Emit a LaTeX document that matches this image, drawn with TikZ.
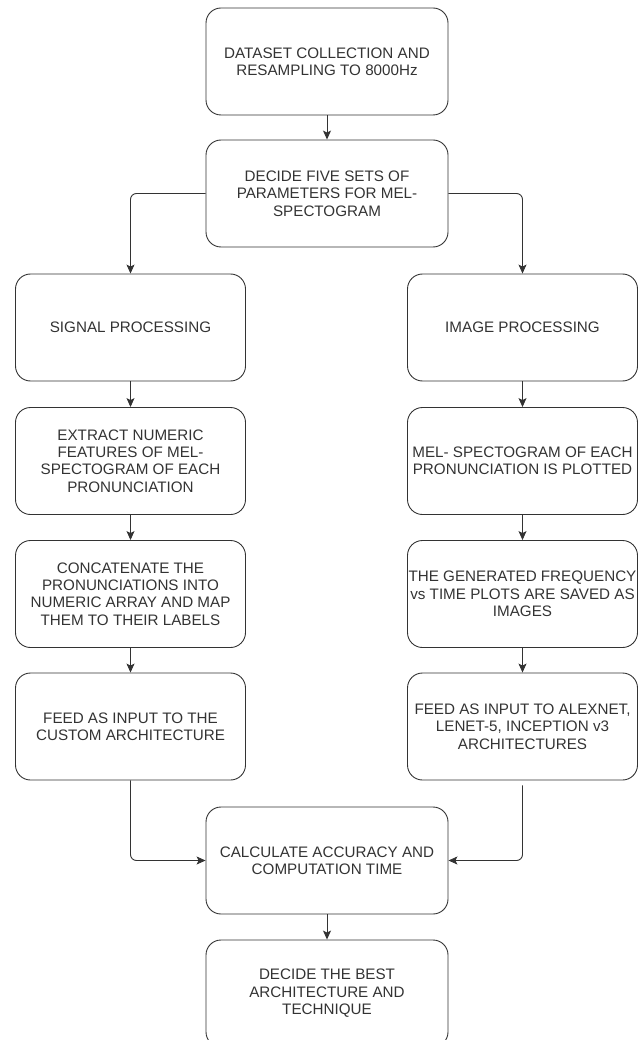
\documentclass[tikz,border=0pt]{standalone}
\usepackage{fontspec}
\setmainfont{Liberation Sans}
\usetikzlibrary{arrows.meta}
\definecolor{inkgray}{HTML}{333333}
\begin{document}
\begin{tikzpicture}[x=1pt,y=-1pt]
        \tikzstyle{box_style} = [draw=inkgray,line width=0.9pt,rounded corners=15pt,text=inkgray,align=center,font=\fontsize{15.2}{17.4}\selectfont,inner sep=0pt,minimum height=107pt]
        \tikzstyle{mid_box} = [box_style,minimum width=242pt]
        \tikzstyle{side_box} = [box_style,minimum width=230pt]
        \tikzstyle{edge_style} = [draw=inkgray,line width=0.9pt,rounded corners=6pt,-{Stealth[length=9pt,width=8pt,inset=2pt]}]
        \useasboundingbox (0,0) rectangle (644,1040);
        \node[mid_box] (dataset) at (327,61.5) {DATASET COLLECTION AND\\RESAMPLING TO 8000Hz};
        \node[mid_box] (params) at (327,193.5) {DECIDE FIVE SETS OF\\PARAMETERS FOR MEL-\\SPECTOGRAM};
        \node[side_box] (signal) at (130.5,327.5) {SIGNAL PROCESSING};
        \node[side_box] (extract) at (130.5,461) {EXTRACT NUMERIC\\FEATURES OF MEL-\\SPECTOGRAM OF EACH\\PRONUNCIATION};
        \node[side_box] (concat) at (130.5,594) {CONCATENATE THE\\PRONUNCIATIONS INTO\\NUMERIC ARRAY AND MAP\\THEM TO THEIR LABELS};
        \node[side_box] (feedcustom) at (130.5,726.5) {FEED AS INPUT TO THE\\CUSTOM ARCHITECTURE};
        \node[side_box] (image) at (522.5,327.5) {IMAGE PROCESSING};
        \node[side_box] (melplot) at (522.5,461) {MEL- SPECTOGRAM OF EACH\\PRONUNCIATION IS PLOTTED};
        \node[side_box] (saved) at (522.5,594) {THE GENERATED FREQUENCY\\vs TIME PLOTS ARE SAVED AS\\IMAGES};
        \node[side_box] (feednets) at (522.5,726.5) {FEED AS INPUT TO ALEXNET,\\LENET-5, INCEPTION v3\\ARCHITECTURES};
        \node[mid_box] (calc) at (327,860.5) {CALCULATE ACCURACY AND\\COMPUTATION TIME};
        \node[mid_box] (best) at (327,993.5) {DECIDE THE BEST\\ARCHITECTURE AND\\TECHNIQUE};
        \draw[edge_style] (dataset) -- (params);
        \draw[edge_style] (params.west) -| (signal.north);
        \draw[edge_style] (params.east) -| (image.north);
        \draw[edge_style] (signal) -- (extract);
        \draw[edge_style] (extract) -- (concat);
        \draw[edge_style] (concat) -- (feedcustom);
        \draw[edge_style] (image) -- (melplot);
        \draw[edge_style] (melplot) -- (saved);
        \draw[edge_style] (saved) -- (feednets);
        \draw[edge_style] (feedcustom.south) |- (calc.west);
        \draw[edge_style] ([yshift=-5pt]feednets.south) |- (calc.east);
        \draw[edge_style] (calc) -- (best);
      \end{tikzpicture}
\end{document}
